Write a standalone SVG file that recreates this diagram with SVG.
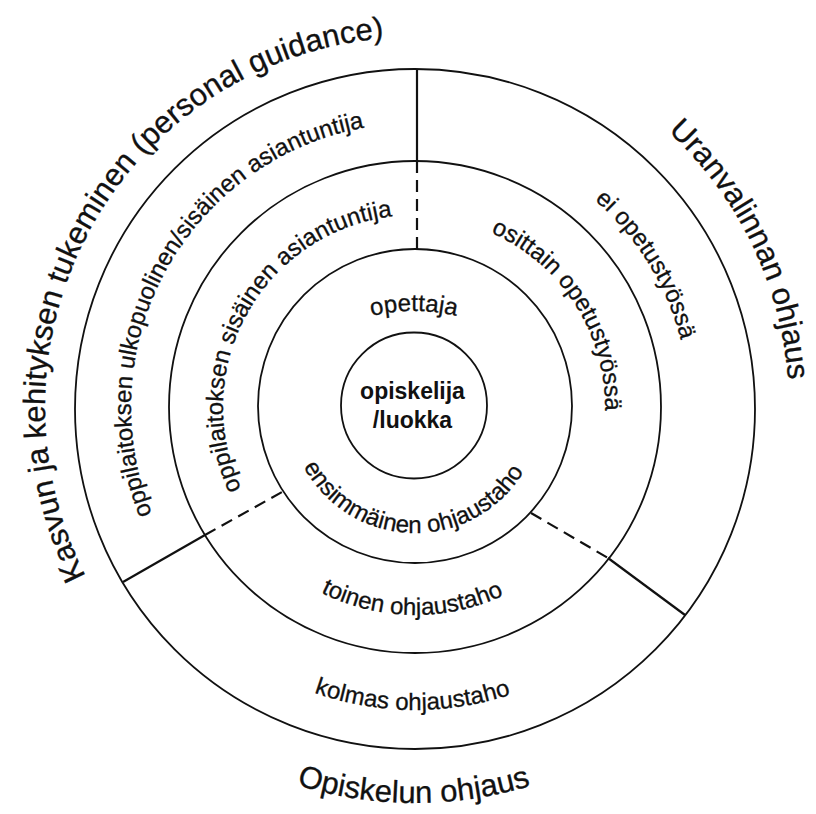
<svg xmlns="http://www.w3.org/2000/svg" width="816" height="814" viewBox="0 0 816 814">
<style>
.ring{fill:none;stroke:#111;stroke-width:1.8}
.div{fill:none;stroke:#111;stroke-width:2.2}
.dash{stroke-dasharray:12 7}
.lbl{font-family:"Liberation Sans",Arial,Helvetica,sans-serif;font-size:24px;fill:#111;stroke:#111;stroke-width:0.3}
.title{font-size:31px}
.core{font-family:"Liberation Sans",Arial,Helvetica,sans-serif;font-size:23px;font-weight:bold;fill:#111}
</style>
<defs>
<path id="pKasvun" d="M 421.46 776.94 A 370 370 0 1 1 732.15 216.44"/>
<path id="pUran" d="M 105.67 196.78 A 374 374 0 1 1 387.61 779.99"/>
<path id="pOpisk" d="M 72.75 207.8 A 396 396 0 1 0 758.64 210.2"/>
<path id="pUlko" d="M 420.95 690.94 A 284 284 0 1 1 657.96 259.88"/>
<path id="pSisa" d="M 418.35 598.97 A 192 192 0 1 1 579.58 308.11"/>
<path id="pOsit" d="M 246.16 319.86 A 190 190 0 1 1 423.95 596.79"/>
<path id="pEi" d="M 173.98 276.68 A 274 274 0 1 1 422.65 680.89"/>
<path id="pToinen" d="M 236.34 300.49 A 208 208 0 1 0 596.57 305.53"/>
<path id="pKolmas" d="M 153.93 253.22 A 303 303 0 1 0 678.72 257.8"/>
<path id="pEnsim" d="M 306.35 340.21 A 127 127 0 1 0 526.29 344.82"/>
<path id="pOpett" d="M 258.12 581 A 180 180 0 1 1 569.88 581"/>
</defs>
<rect width="816" height="814" fill="#fff"/>

<g id="rings">
<circle id="ring-outer" class="ring" cx="415" cy="409" r="340"/>
<circle id="ring-second" class="ring" cx="415" cy="407" r="246"/>
<circle id="ring-first" class="ring" cx="415" cy="406" r="157"/>
</g>

<g id="connectors">
<line class="div" x1="417" y1="69" x2="417" y2="161"/>
<line class="div dash" x1="417" y1="161" x2="417" y2="249"/>
<line class="div" x1="123" y1="582" x2="205" y2="535"/>
<line class="div dash" x1="205" y1="535" x2="282" y2="492"/>
<line class="div dash" x1="531" y1="513" x2="608" y2="558"/>
<line class="div" x1="608" y1="558" x2="685" y2="615"/>
</g>

<g id="node-student">
<circle class="ring" cx="414" cy="405.5" r="73"/>
<text class="core" x="412.5" y="399" text-anchor="middle">opiskelija</text>
<text class="core" x="412.5" y="428" text-anchor="middle">/luokka</text>
</g>

<g id="node-teacher">
<text class="lbl"><textPath href="#pOpett" startOffset="50%" text-anchor="middle">opettaja</textPath></text>
</g>
<g id="node-first">
<text class="lbl"><textPath href="#pEnsim" startOffset="50%" text-anchor="middle">ensimmäinen ohjaustaho</textPath></text>
</g>
<g id="node-internal-expert">
<text class="lbl"><textPath href="#pSisa" startOffset="50%" text-anchor="middle">oppilaitoksen sisäinen asiantuntija</textPath></text>
</g>
<g id="node-partial">
<text class="lbl"><textPath href="#pOsit" startOffset="50%" text-anchor="middle">osittain opetustyössä</textPath></text>
</g>
<g id="node-second">
<text class="lbl"><textPath href="#pToinen" startOffset="50%" text-anchor="middle">toinen ohjaustaho</textPath></text>
</g>
<g id="node-external-expert">
<text class="lbl"><textPath href="#pUlko" startOffset="50%" text-anchor="middle">oppilaitoksen ulkopuolinen/sisäinen asiantuntija</textPath></text>
</g>
<g id="node-not-teaching">
<text class="lbl"><textPath href="#pEi" startOffset="50%" text-anchor="middle">ei opetustyössä</textPath></text>
</g>
<g id="node-third">
<text class="lbl"><textPath href="#pKolmas" startOffset="50%" text-anchor="middle">kolmas ohjaustaho</textPath></text>
</g>

<g id="title-personal">
<text class="lbl title"><textPath href="#pKasvun" startOffset="50%" text-anchor="middle">Kasvun ja kehityksen tukeminen (personal guidance)</textPath></text>
</g>
<g id="title-career">
<text class="lbl title"><textPath href="#pUran" startOffset="50%" text-anchor="middle">Uranvalinnan ohjaus</textPath></text>
</g>
<g id="title-study">
<text class="lbl title"><textPath href="#pOpisk" startOffset="50%" text-anchor="middle">Opiskelun ohjaus</textPath></text>
</g>
</svg>
